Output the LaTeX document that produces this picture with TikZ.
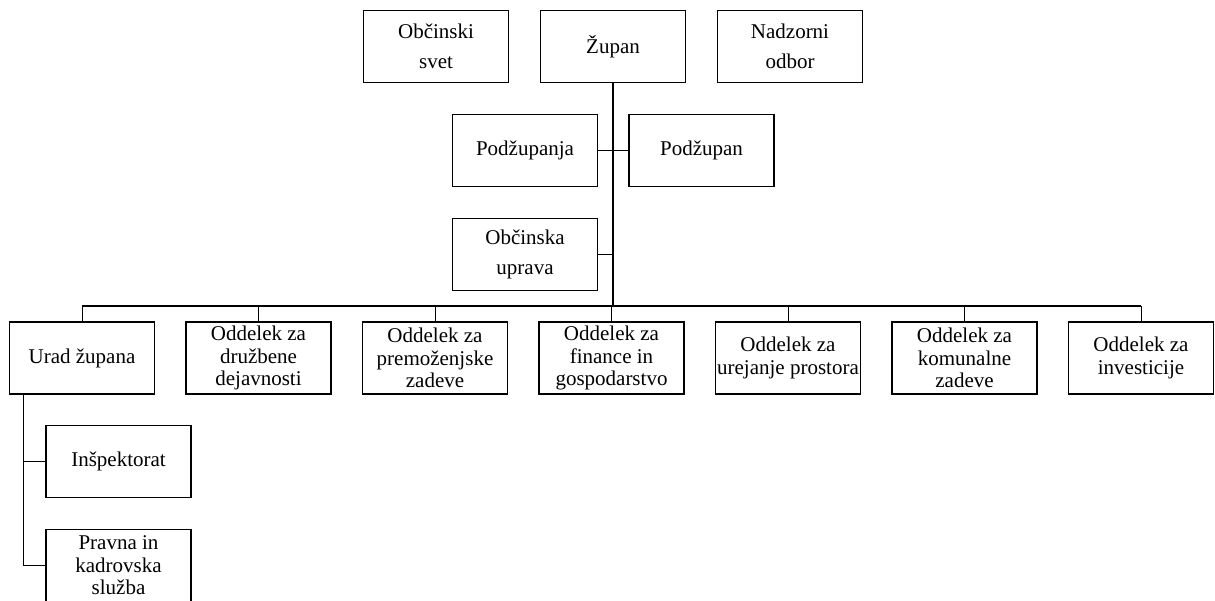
\documentclass[tikz,border=0pt]{standalone}
\usepackage{fontspec}
\setmainfont{Liberation Serif}
\usepackage{tikz}

\begin{document}
\begin{tikzpicture}
[x=1pt,y=-1pt,
every node/.style={draw,line width=1.1pt,minimum width=145,minimum height=72,inner sep=1pt,align=center},
top/.style={font=\fontsize{21}{30}\selectfont},
low/.style={font=\fontsize{21}{22.5}\selectfont}]
\useasboundingbox (0,0) rectangle (1215,601);
\node[top] (svet) at (436,46.5) {Občinski\\svet};
\node[top] (zupan) at (613,46.5) {Župan};
\node[top] (nadzor) at (790,46.5) {Nadzorni\\odbor};
\node[top] (podzupanja) at (525,150.5) {Podžupanja};
\node[top] (podzupan) at (701.5,150.5) {Podžupan};
\node[top] (uprava) at (525,254.5) {Občinska\\uprava};
\coordinate (bus) at (613,306);
\node[low] (b1) at (82,358) {Urad župana};
\node[low] (b2) at (258.5,358) {Oddelek za\\družbene\\dejavnosti};
\node[low] (b3) at (435,358) {Oddelek za\\premoženjske\\zadeve};
\node[low] (b4) at (611.5,358) {Oddelek za\\finance in\\gospodarstvo};
\node[low] (b5) at (788,358) {Oddelek za\\urejanje prostora};
\node[low] (b6) at (964.5,358) {Oddelek za\\komunalne\\zadeve};
\node[low] (b7) at (1141,358) {Oddelek za\\investicije};
\node[low] (insp) at (118.5,461.5) {Inšpektorat};
\node[low] (pravna) at (118.5,565.5) {Pravna in\\kadrovska\\služba};
\draw[line width=2.2pt] (zupan.south) -- (zupan.south |- bus);
\draw[line width=1pt] (podzupanja.east) -- (podzupan.west);
\draw[line width=1pt] (uprava.east) -- (uprava.east -| zupan.south);
\draw[line width=1.8pt] (b1.north |- bus) -- (b7.north |- bus);
\foreach \n in {b1,b2,b3,b4,b5,b6,b7}
\draw[line width=1pt] (\n.north) -- (\n.north |- bus);
\draw[line width=1pt] ([xshift=15pt]b1.south west) |- (insp.west);
\draw[line width=1pt] ([xshift=15pt]b1.south west) |- (pravna.west);
\end{tikzpicture}
\end{document}
